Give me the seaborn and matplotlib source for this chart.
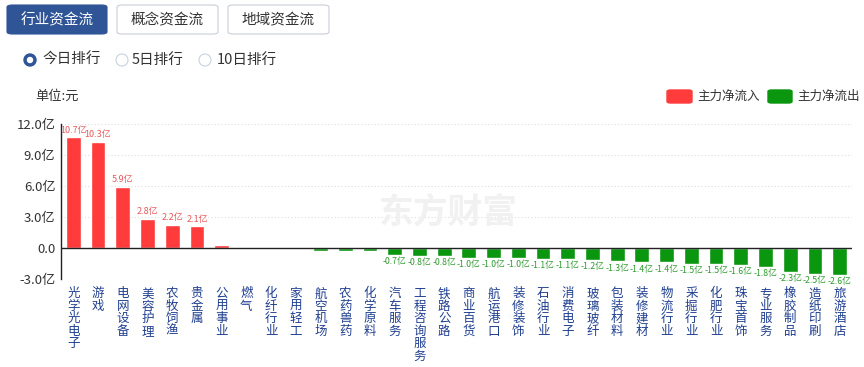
import numpy as np
import pandas as pd
import matplotlib
matplotlib.use("Agg")
import matplotlib.pyplot as plt
from matplotlib.patches import FancyBboxPatch, Circle
import seaborn as sns

# ── Data ───────────────────────────────────────────────────────────────────────
industries = [
    "光学光电子", "游戏", "电网设备", "美容护理", "农牧饲渔", "贵金属", "公用事业", "燃气",
    "化纤行业", "家用轻工", "航空机场", "农药兽药", "化学原料", "汽车服务", "工程咨询服务",
    "铁路公路", "商业百货", "航运港口", "装修装饰", "石油行业", "消费电子", "玻璃玻纤",
    "包装材料", "装修建材", "物流行业", "采掘行业", "化肥行业", "珠宝首饰", "专业服务",
    "橡胶制品", "造纸印刷", "旅游酒店",
]
net_flow = [
    10.7, 10.3, 5.9, 2.8, 2.2, 2.1, 0.3, 0.04,
    0.0, -0.1, -0.25, -0.25, -0.3, -0.7, -0.8,
    -0.8, -1.0, -1.0, -1.0, -1.1, -1.1, -1.2,
    -1.3, -1.4, -1.4, -1.5, -1.5, -1.6, -1.8,
    -2.3, -2.5, -2.6,
]
y_ticks = [-3, 0, 3, 6, 9, 12]
y_tick_labels = ["-3.0亿", "0.0", "3.0亿", "6.0亿", "9.0亿", "12.0亿"]
tabs = ["行业资金流", "概念资金流", "地域资金流"]
ranks = ["今日排行", "5日排行", "10日排行"]
legend_names = ["主力净流入", "主力净流出"]

RED = "#ff3b3b"
GREEN = "#0a960f"
BLUE = "#2f5597"

sns.set_theme(style="white")
plt.rcParams["font.family"] = ["Noto Sans CJK SC", "DejaVu Sans"]
plt.rcParams["axes.unicode_minus"] = False

df = pd.DataFrame({"industry": industries, "flow": net_flow})
df["dir"] = np.where(df["flow"] >= 0, "in", "out")

W, H = 864, 367
fig = plt.figure(figsize=(W / 100, H / 100), dpi=100)


def fx(px):
    return px / W


def fy(py):
    return 1 - py / H


ax = fig.add_axes([fx(61), fy(279), fx(852) - fx(61), fy(124) - fy(279)])

sns.barplot(data=df, x="industry", y="flow", hue="dir", dodge=False,
            palette={"in": RED, "out": GREEN}, width=0.6, legend=False,
            saturation=1, ax=ax)

ax.set_ylim(-3, 12)
ax.set_xlim(-0.5, len(industries) - 0.5)
ax.set_yticks(y_ticks)
ax.set_yticklabels(y_tick_labels, color="#333333", fontsize=9.5)
for t in [3, 6, 9, 12, -3]:
    ax.axhline(t, color="#dddddd", lw=0.8, ls=(0, (1, 2)), zorder=0)
ax.axhline(0, color="#222222", lw=1, zorder=3)
for s in ["top", "right", "bottom"]:
    ax.spines[s].set_visible(False)
ax.spines["left"].set_color("#222222")
ax.spines["left"].set_linewidth(1)
ax.tick_params(axis="both", length=0, pad=4)
ax.set_xlabel("")
ax.set_ylabel("")

# vertical category labels
ax.set_xticks(range(len(industries)))
ax.set_xticklabels(["\n".join(n) for n in industries], color="#1f3f8f",
                   fontsize=9, linespacing=0.95, va="top")
ax.tick_params(axis="x", pad=6)

# value labels
for i, v in enumerate(net_flow):
    if abs(v) < 0.5:
        continue
    if v > 0:
        ax.annotate(f"{v:.1f}亿", (i, v), xytext=(0, 2), textcoords="offset points",
                    ha="center", va="bottom", fontsize=6.5, color="#e65a5e")
    else:
        ax.annotate(f"{v:.1f}亿", (i, v), xytext=(0, -1.5), textcoords="offset points",
                    ha="center", va="top", fontsize=6.3, color="#2f9a2f")

# watermark
fig.text(fx(448), fy(212), "东方财富", ha="center", va="center", fontsize=25,
         fontweight="bold", color="#f1f1f1", zorder=0)

# ── header widgets ─────────────────────────────────────────────────────────────
tab_x = [(7, 107), (117, 218), (228, 329)]
for k, (name, (x0, x1)) in enumerate(zip(tabs, tab_x)):
    face = BLUE if k == 0 else "white"
    edge = BLUE if k == 0 else "#c9ced6"
    fig.add_artist(FancyBboxPatch((fx(x0), fy(34)), fx(x1 - x0), fy(5) - fy(34),
                                  boxstyle="round,pad=0,rounding_size=0.006",
                                  fc=face, ec=edge, lw=0.8, transform=fig.transFigure))
    fig.text(fx((x0 + x1) / 2), fy(20), name, ha="center", va="center", fontsize=10.5,
             color="white" if k == 0 else "#333333")

radio_x = [(30, 42), (122, 132), (205, 217)]
for k, (name, (cx, tx)) in enumerate(zip(ranks, radio_x)):
    if k == 0:
        fig.add_artist(Circle((cx, H - 60), 6, fc=BLUE, ec=BLUE, transform=None))
        fig.add_artist(Circle((cx, H - 60), 2.5, fc="white", ec="white", transform=None))
    else:
        fig.add_artist(Circle((cx, H - 60), 6, fc="white", ec="#c9d2de", lw=0.8, transform=None))
    fig.text(fx(tx), fy(60), name, ha="left", va="center", fontsize=10.5, color="#333333")

fig.text(fx(35), fy(96), "单位:元", ha="left", va="center", fontsize=9.5, color="#333333")

# legend
for (x0, x1, tx), name, col in zip([(667, 692, 697), (768, 792, 797)], legend_names, [RED, GREEN]):
    fig.add_artist(FancyBboxPatch((fx(x0), fy(103)), fx(x1 - x0), fy(90) - fy(103),
                                  boxstyle="round,pad=0,rounding_size=0.004",
                                  fc=col, ec=col, transform=fig.transFigure))
    fig.text(fx(tx), fy(96.5), name, ha="left", va="center", fontsize=9, color="#333333")

fig.savefig("out.png", dpi=100)
plt.close(fig)
